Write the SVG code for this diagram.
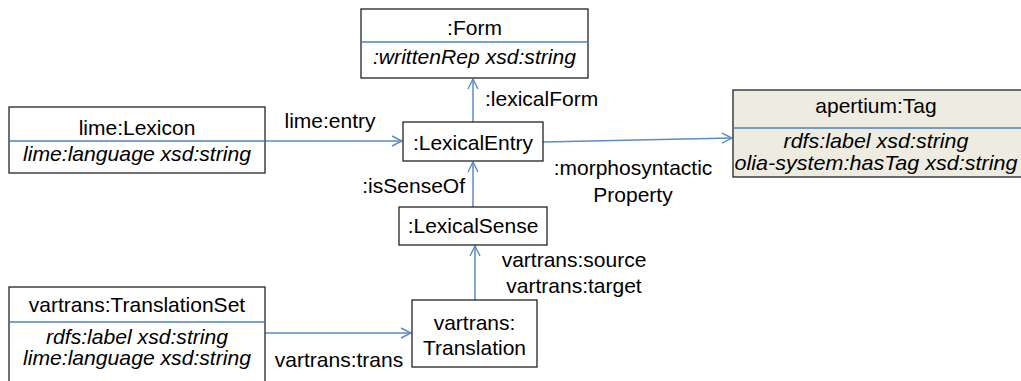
<svg xmlns="http://www.w3.org/2000/svg" width="1021" height="381" viewBox="0 0 1021 381">
<style>
text{font-family:"Liberation Sans",Arial,sans-serif;font-size:21px;fill:#000}
.c{text-anchor:middle}
.i{font-style:italic}
.box{fill:#fff;stroke:#222;stroke-width:1.3}
.tag{fill:#EEECE1;stroke:#222;stroke-width:1.3}
.div{stroke:#4F81BD;stroke-width:1.3;fill:none}
.con{stroke:#5B8BC8;stroke-width:1.5;fill:none;marker-end:url(#arr)}
</style>
<defs>
<marker id="arr" viewBox="0 0 12 12" refX="11" refY="6" markerWidth="12" markerHeight="12" markerUnits="userSpaceOnUse" orient="auto">
<path d="M1,1 L11,6 L1,11" fill="none" stroke="#5B8BC8" stroke-width="1.4"/>
</marker>
</defs>
<g id="connectors">
<line class="con" x1="473" y1="122" x2="473" y2="79"/>
<line class="con" x1="265" y1="141" x2="402" y2="141"/>
<line class="con" x1="543" y1="142" x2="732" y2="138"/>
<line class="con" x1="473" y1="207" x2="473" y2="162"/>
<line class="con" x1="475" y1="300" x2="475" y2="246"/>
<line class="con" x1="265" y1="333" x2="411" y2="333"/>
<text x="485" y="106">:lexicalForm</text>
<text class="c" x="330" y="128">lime:entry</text>
<text class="c" x="633" y="175">:morphosyntactic</text>
<text class="c" x="633" y="202">Property</text>
<text x="465" y="193" text-anchor="end">:isSenseOf</text>
<text class="c" x="574" y="267">vartrans:source</text>
<text class="c" x="574" y="293">vartrans:target</text>
<text class="c" x="339" y="367">vartrans:trans</text>
</g>
<g id="form">
<rect class="box" x="361" y="9" width="227" height="69"/>
<line class="div" x1="361" y1="42" x2="588" y2="42"/>
<text class="c" x="474.5" y="35">:Form</text>
<text class="c i" x="474.5" y="64" textLength="203" lengthAdjust="spacingAndGlyphs">:writtenRep xsd:string</text>
</g>
<g id="lexicon">
<rect class="box" x="9" y="107" width="256" height="66"/>
<line class="div" x1="9" y1="141" x2="265" y2="141"/>
<text class="c" x="137" y="135">lime:Lexicon</text>
<text class="c i" x="137" y="161" textLength="228" lengthAdjust="spacingAndGlyphs">lime:language xsd:string</text>
</g>
<g id="lexicalEntry">
<rect class="box" x="403" y="122" width="140" height="39"/>
<text class="c" x="473" y="150">:LexicalEntry</text>
</g>
<g id="tag">
<rect class="tag" x="733" y="90" width="290" height="87"/>
<line class="div" x1="733" y1="128" x2="1023" y2="128"/>
<text class="c" x="876" y="113">apertium:Tag</text>
<text class="c i" x="876" y="148" textLength="185" lengthAdjust="spacingAndGlyphs">rdfs:label xsd:string</text>
<text class="c i" x="876" y="170" textLength="283" lengthAdjust="spacingAndGlyphs">olia-system:hasTag xsd:string</text>
</g>
<g id="lexicalSense">
<rect class="box" x="399" y="207" width="148" height="38"/>
<text class="c" x="473" y="233">:LexicalSense</text>
</g>
<g id="translation">
<rect class="box" x="412" y="300" width="125" height="67"/>
<text class="c" x="474.5" y="330">vartrans:</text>
<text class="c" x="474.5" y="355">Translation</text>
</g>
<g id="translationSet">
<rect class="box" x="9" y="287" width="256" height="100"/>
<line class="div" x1="9" y1="322" x2="265" y2="322"/>
<text class="c" x="137" y="312">vartrans:TranslationSet</text>
<text class="c i" x="137" y="344" textLength="182" lengthAdjust="spacingAndGlyphs">rdfs:label xsd:string</text>
<text class="c i" x="137" y="365" textLength="228" lengthAdjust="spacingAndGlyphs">lime:language xsd:string</text>
</g>
</svg>
